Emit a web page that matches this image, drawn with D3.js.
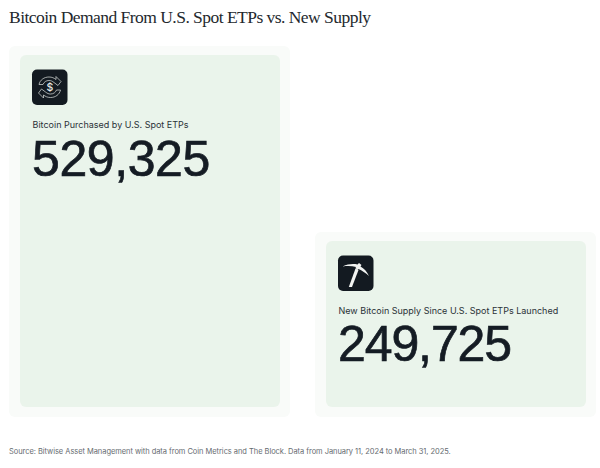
<!DOCTYPE html>
<html>
<head>
<meta charset="utf-8">
<script src="https://d3js.org/d3.v7.min.js"></script>
<style>
  html, body { margin: 0; padding: 0; background: #fff; }
  svg { display: block; }
  .title { font-family: "Liberation Serif", serif; font-size: 17.5px; fill: #23282d; letter-spacing: -0.53px; }
  .label { font-family: "Inter", sans-serif; font-size: 9px; fill: #2b3238; }
  .value { font-family: "Liberation Sans", sans-serif; font-size: 50px; fill: #151c24; stroke: #151c24; stroke-width: 0.7px; }
  .source { font-family: "Inter", sans-serif; font-size: 7.5px; fill: #666b70; letter-spacing: -0.05px; }
</style>
</head>
<body>
<svg id="chart" width="600" height="468"></svg>
<script>
// values and text
var categories = ['Bitcoin Purchased by U.S. Spot ETPs', 'New Bitcoin Supply Since U.S. Spot ETPs Launched'];
var values = [529325, 249725];
var icons = ['swap', 'pick'];
var titleText = 'Bitcoin Demand From U.S. Spot ETPs vs. New Supply';
var sourceText = 'Source: Bitwise Asset Management with data from Coin Metrics and The Block. Data from January 11, 2024 to March 31, 2025.';

var svg = d3.select('#chart');

var x = d3.scaleBand()
  .domain(categories)
  .range([20, 586])
  .paddingInner(46 / 306);

var y = d3.scaleLinear()
  .domain([0, 529325])
  .range([407, 55]);

var halo = 10; // pale frame around each bar

svg.append('text')
  .attr('class', 'title')
  .attr('x', 9)
  .attr('y', 23)
  .text(titleText);

var cards = svg.selectAll('g.card')
  .data(categories)
  .enter().append('g')
  .attr('class', 'card');

cards.append('rect')
  .attr('x', function(d) { return x(d) - halo - 1; })
  .attr('y', function(d, i) { return y(values[i]) - halo + 1; })
  .attr('width', x.bandwidth() + 2 * halo + 1)
  .attr('height', function(d, i) { return y(0) - y(values[i]) + 2 * halo - 1; })
  .attr('rx', 6)
  .attr('fill', '#f9fbf9');

cards.append('rect')
  .attr('x', function(d) { return x(d); })
  .attr('y', function(d, i) { return y(values[i]); })
  .attr('width', x.bandwidth())
  .attr('height', function(d, i) { return y(0) - y(values[i]); })
  .attr('rx', 6)
  .attr('fill', '#eaf4eb');

var icon = cards.append('g')
  .attr('transform', function(d, i) {
    return 'translate(' + (x(d) + 12) + ',' + (y(values[i]) + 14.5) + ')';
  });

icon.append('rect')
  .attr('width', 35.5)
  .attr('height', 35.5)
  .attr('rx', 5)
  .attr('fill', '#131a21');

// swap arrows with a dollar sign
var swap = icon.filter(function(d, i) { return icons[i] === 'swap'; })
  .append('g')
  .attr('fill', 'none')
  .attr('stroke', '#dfe4e1')
  .attr('stroke-width', 0.7)
  .attr('stroke-linejoin', 'round');

swap.append('path')
  .attr('d', 'M7 15 C8 10.5 12 7.5 17 7.5 C20 7.5 22 8.5 24 10 L24 7 L29 12 L26 16 L22 13 C20 11.5 19 11 17 11 C14 11 12 12.5 11 15 Z');
swap.append('path')
  .attr('d', 'M28.5 20.5 C27.5 25 23.5 28 18.5 28 C15.5 28 13.5 27 11.5 25.5 L11.5 28.5 L6.5 23.5 L9.5 19.5 L13.5 22.5 C15.5 24 16.5 24.5 18.5 24.5 C21.5 24.5 23.5 23 24.5 20.5 Z');
swap.append('text')
  .attr('x', 17.8)
  .attr('y', 21.5)
  .attr('text-anchor', 'middle')
  .attr('font-family', 'Inter, sans-serif')
  .attr('font-size', 10.5)
  .attr('font-weight', 500)
  .attr('fill', '#e8ece9')
  .attr('stroke', 'none')
  .text('$');

// pickaxe
var pick = icon.filter(function(d, i) { return icons[i] === 'pick'; })
  .append('g')
  .attr('fill', '#f2f4f2');

pick.append('path')
  .attr('d', 'M4.5 11 C10 8.5 15 8 19.5 9 L21 7.5 L23.5 9.5 L22.5 11 C26 13 29 16 31 20.5 C27.5 17.5 24 15 20.5 13.5 L19.5 14.5 L17.5 12.5 L18 11.5 C14 10.5 9.5 10.5 4.5 11 Z');
pick.append('path')
  .attr('d', 'M17.5 13 L20.5 14.5 L14 31.5 L10.8 31.5 Z');

cards.append('text')
  .attr('class', 'label')
  .attr('x', function(d) { return x(d) + 12.5; })
  .attr('y', function(d, i) { return y(values[i]) + 73; })
  .text(function(d) { return d; });

cards.append('text')
  .attr('class', 'value')
  .attr('x', function(d) { return x(d) + 12; })
  .attr('y', function(d, i) { return y(values[i]) + 120.5; })
  .attr('letter-spacing', function(d, i) { return i ? -1.1 : -0.4; })
  .text(function(d, i) { return d3.format(',')(values[i]); });

svg.append('text')
  .attr('class', 'source')
  .attr('x', 9)
  .attr('y', 454)
  .text(sourceText);
</script>
</body>
</html>
